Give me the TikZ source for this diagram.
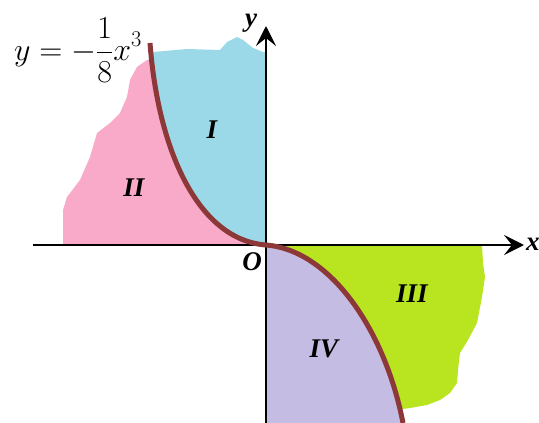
\RequirePackage{fix-cm}
\documentclass[tikz,border=0pt]{standalone}
\usepackage{fontspec}
\setmainfont{Liberation Serif}
\usetikzlibrary{arrows.meta}
\definecolor{cblue}{RGB}{156,217,232}
\definecolor{cpink}{RGB}{249,170,200}
\definecolor{cgreen}{RGB}{184,228,32}
\definecolor{cpurple}{RGB}{196,188,226}
\definecolor{ccurve}{RGB}{140,56,56}
\tikzset{
  axis/.style={line width=2.4pt, -{Stealth[length=20pt,width=20pt,inset=8pt]}},
  curve/.style={line width=5pt, ccurve},
  lab/.style={font=\fontsize{27}{27}\selectfont\bfseries\itshape, inner sep=0pt},
}
\def\curvepath{(150,43) .. controls (158,150) and (198,240) .. (266,245) .. controls (330,250) and (385,330) .. (403,423)}
\begin{document}
\begin{tikzpicture}[x=1pt,y=-1pt]
\useasboundingbox (0,0) rectangle (539,423);
% regions right of the curve
\begin{scope}
  \clip \curvepath -- (539,423) -- (539,0) -- (150,0) -- cycle;
  \fill[cblue] (140,52) -- (153,52) -- (187,49) -- (220,50) -- (227,42) -- (237,37) -- (243,40) -- (253,48) -- (263,52) -- (266,52) -- (266,246) -- (140,246) -- cycle;
  \fill[cgreen] (266,245) -- (482,245) -- (483,263) -- (485,277) -- (482,297) -- (477,323) -- (468,340) -- (460,353) -- (458,370) -- (457,383) -- (450,393) -- (440,400) -- (427,405) -- (410,408) -- (395,410) -- (266,410) -- cycle;
\end{scope}
% regions left of the curve
\begin{scope}
  \clip \curvepath -- (0,423) -- (0,0) -- (150,0) -- cycle;
  \fill[cpink] (63,245) -- (63,210) -- (67,197) -- (80,180) -- (90,157) -- (97,133) -- (110,123) -- (120,113) -- (127,97) -- (130,80) -- (137,67) -- (147,60) -- (155,58) -- (200,58) -- (266,245) -- cycle;
  \fill[cpurple] (266,245) -- (420,245) -- (420,423) -- (266,423) -- cycle;
\end{scope}
% axes
\coordinate (xs) at (33,245);
\coordinate (xe) at (524,245);
\coordinate (ys) at (266,423);
\coordinate (ye) at (266,26);
\draw[axis] (xs) -- (xe);
\draw[axis] (ys) -- (ye);
% curve
\draw[curve] \curvepath;
% labels
\node[lab, anchor=west] (xl) at (526,244) {x};
\node[lab] (yl) at (251,23) {y};
\node[lab] (o) at (252,262) {O};
\node[lab] (r1) at (212,130) {I};
\node[lab] (r2) at (134,188) {II};
\node[lab] (r3) at (412,294) {III};
\node[lab] (r4) at (324,349) {IV};
\node[inner sep=0pt, font=\fontsize{32}{38}\selectfont] (eq) at (78,50) {$\displaystyle y=-\frac{1}{8}x^{3}$};
\end{tikzpicture}
\end{document}
